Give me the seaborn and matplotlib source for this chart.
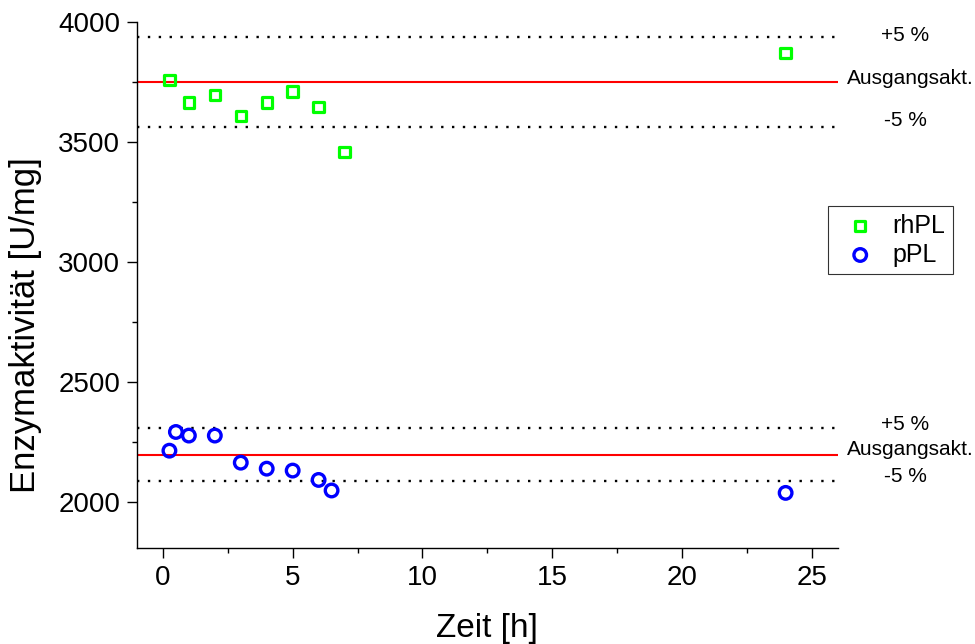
import numpy as np
import pandas as pd
import matplotlib
matplotlib.use("Agg")
import matplotlib.pyplot as plt
from matplotlib.ticker import MultipleLocator
import seaborn as sns

# Messwerte rhPL
zeit_rhpl = [0.25, 1, 2, 3, 4, 5, 6, 7, 24]
akt_rhpl = [3758, 3664, 3695, 3607, 3664, 3710, 3645, 3457, 3870]

# Messwerte pPL
zeit_ppl = [0.25, 0.5, 1, 2, 3, 4, 5, 6, 6.5, 24]
akt_ppl = [2212, 2290, 2275, 2275, 2162, 2137, 2129, 2090, 2046, 2036]

# Ausgangsaktivitaeten
start_rhpl = 3750
start_ppl = 2195

df_rhpl = pd.DataFrame({"Zeit": zeit_rhpl, "Akt": akt_rhpl})
df_ppl = pd.DataFrame({"Zeit": zeit_ppl, "Akt": akt_ppl})

sns.set_style("ticks")
plt.rcParams["font.family"] = ["Liberation Sans", "DejaVu Sans"]
plt.rcParams["text.color"] = "black"
plt.rcParams["axes.labelcolor"] = "black"
plt.rcParams["xtick.color"] = "black"
plt.rcParams["ytick.color"] = "black"

fig = plt.figure(figsize=(9.75, 6.44), dpi=100)
ax = fig.add_axes([0.1405, 0.149, 0.7185, 0.817])

# Referenzlinien (Ausgangsaktivitaet und +/- 5 %)
for base in [start_rhpl, start_ppl]:
    ax.axhline(base, color="#ff0000", lw=1.5, zorder=1)
    ax.axhline(base * 1.05, color="black", lw=1.7, ls=(0, (1, 3.6)), zorder=1)
    ax.axhline(base * 0.95, color="black", lw=1.7, ls=(0, (1, 3.6)), zorder=1)

sns.scatterplot(data=df_rhpl, x="Zeit", y="Akt", marker="s", s=56,
                facecolor="none", edgecolor="#00ff00", linewidth=2.3,
                label="rhPL", ax=ax, zorder=3)
sns.scatterplot(data=df_ppl, x="Zeit", y="Akt", marker="o", s=82,
                facecolor="none", edgecolor="#0000ff", linewidth=2.4,
                label="pPL", ax=ax, zorder=3)

# Beschriftung der Referenzlinien
for base, offs in [(start_rhpl, (5, 15, 28)), (start_ppl, (16, 22, 18))]:
    ax.text(28.6, base * 1.05 + offs[0], "+5 %", ha="center", va="center",
            fontsize=15, clip_on=False)
    ax.text(26.35, base + offs[1], "Ausgangsakt.", ha="left", va="center",
            fontsize=15, clip_on=False)
    ax.text(28.6, base * 0.95 + offs[2], "-5 %", ha="center", va="center",
            fontsize=15, clip_on=False)

ax.set_xlim(-1, 26)
ax.set_ylim(1806, 4000)
ax.xaxis.set_major_locator(MultipleLocator(5))
ax.xaxis.set_minor_locator(MultipleLocator(2.5))
ax.yaxis.set_major_locator(MultipleLocator(500))
ax.yaxis.set_minor_locator(MultipleLocator(250))

ax.set_xlabel("Zeit [h]", fontsize=24)
ax.set_ylabel("Enzymaktivität [U/mg]", fontsize=25)
ax.xaxis.set_label_coords(0.5, -0.124)
ax.yaxis.set_label_coords(-0.136, 0.424)

sns.despine(ax=ax)
for sp in ["left", "bottom"]:
    ax.spines[sp].set_linewidth(1.0)
    ax.spines[sp].set_color("black")
ax.tick_params(which="major", length=7, width=1, labelsize=20, color="black",
               direction="out", pad=5)
ax.tick_params(which="minor", length=3.5, width=1, color="black", direction="out")

leg = ax.legend(loc="upper left", bbox_to_anchor=(0.986, 0.65), borderaxespad=0,
                fontsize=18, frameon=True, fancybox=False, handletextpad=0.3,
                borderpad=0.3, labelspacing=0.2)
leg.get_frame().set_edgecolor("black")
leg.get_frame().set_linewidth(0.8)
leg.set_clip_on(False)

fig.savefig("out.png", dpi=100)
